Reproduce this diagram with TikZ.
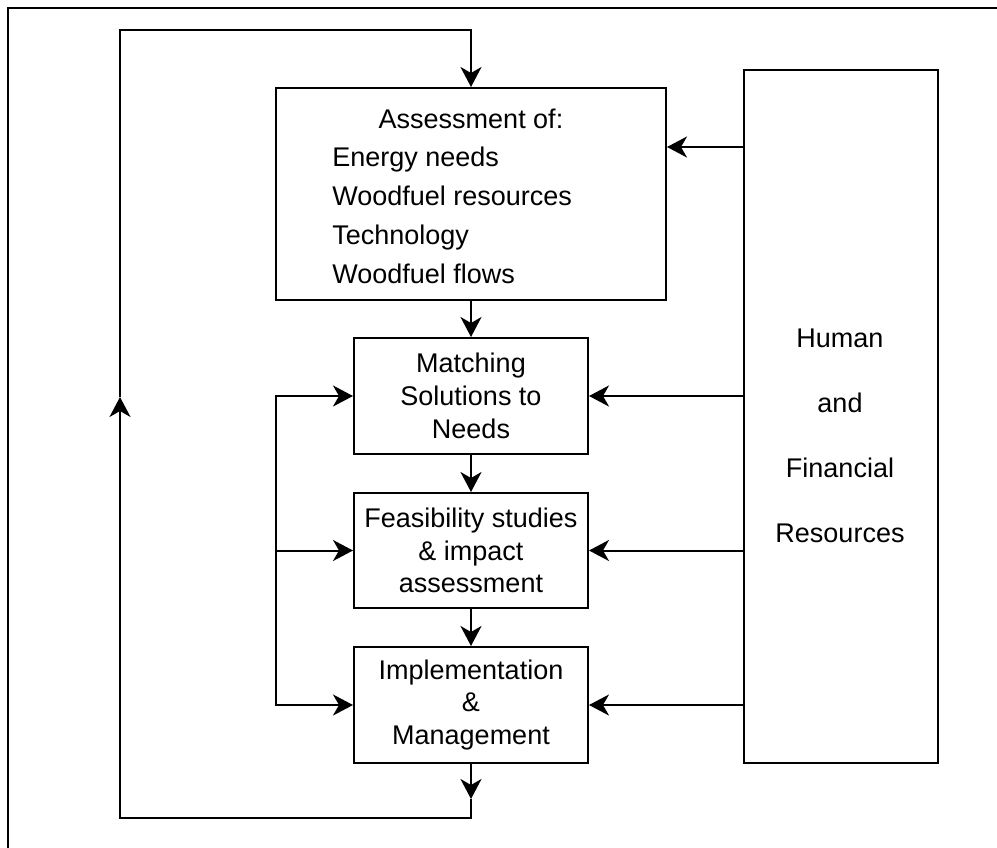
\documentclass[tikz,border=0pt]{standalone}
\usepackage{fontspec}
\setmainfont{Liberation Sans}
\usetikzlibrary{arrows.meta}

\tikzset{
  box/.style={draw, line width=1pt, minimum width=117pt, minimum height=58pt,
    inner sep=0pt, align=center, font=\fontsize{13.5pt}{16.4pt}\selectfont},
  txt/.style={inner sep=0pt, font=\fontsize{13.5pt}{16.4pt}\selectfont},
  arr/.style={-{Stealth[length=10pt,width=10.5pt,inset=3pt]}, line width=1pt},
  twoarr/.style={{Stealth[length=10pt,width=10.5pt,inset=3pt]}-{Stealth[length=10pt,width=10.5pt,inset=3pt]}, line width=1pt},
  line/.style={line width=1pt}
}

\begin{document}
\begin{tikzpicture}[x=0.5pt,y=-0.5pt]
            \useasboundingbox (0,0) rectangle (997,847);
            \draw [line] (1005,8) -- (8,8) -- (8,855);
            % boxes
            \node [box, minimum width=195pt, minimum height=106pt] (assess) at (471,194) {};
            \node [txt, anchor=base] (assesstitle) at (471,128) {Assessment of:};
            \node [txt, anchor=base west, align=left, font=\fontsize{13.5pt}{19.4pt}\selectfont] (assesslist) at (332,283)
                {Energy needs\\Woodfuel resources\\Technology\\Woodfuel flows};
            \node [box] (match) at (471,396) {Matching\\Solutions to\\Needs};
            \node [box, minimum height=57.5pt] (feas) at (471,550.5) {Feasibility studies\\\& impact\\assessment};
            \node [box] (impl) at (471,705) {Implementation\\\&\\Management};
            \node [box, minimum width=97pt, minimum height=346.5pt] (human) at (841,416.5) {};
            \node [txt, align=center, font=\fontsize{13.5pt}{32.4pt}\selectfont] (humanlbl) at (840,436)
                {Human\\and\\Financial\\Resources};
            % down the column
            \draw [arr] (assess.south) -- (match.north);
            \draw [arr] (match.south) -- (feas.north);
            \draw [arr] (feas.south) -- (impl.north);
            % from the resources
            \coordinate (ain) at ([yshift=23.5pt]assess.east);
            \draw [arr] (human.west |- ain) -- (ain);
            \draw [arr] (human.west |- match.east) -- (match.east);
            \draw [arr] (human.west |- feas.east) -- (feas.east);
            \draw [arr] (human.west |- impl.east) -- (impl.east);
            % left branch
            \coordinate (br) at (276,550.5);
            \draw [twoarr] (match.west) -| (br) |- (impl.west);
            \draw [arr] (br) -- (feas.west);
            % feedback loop
            \coordinate (fb1) at (471,799);
            \coordinate (fb2) at (471,818);
            \coordinate (fb3) at (120,397);
            \coordinate (fb4) at (120,30);
            \draw [arr] (impl.south) -- (fb1);
            \draw [arr] (fb1) -- (fb2) -| (fb3);
            \draw [arr] (fb3) -- (fb4) -| (assess.north);
        \end{tikzpicture}
\end{document}
